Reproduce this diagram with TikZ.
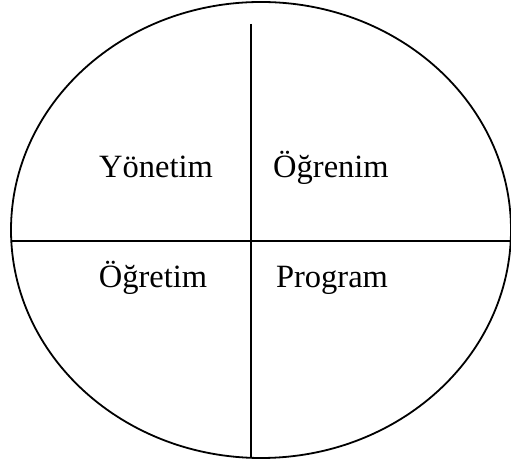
\documentclass[tikz,border=0pt]{standalone}
\usepackage{fontspec}
\setmainfont{Liberation Serif}
\usetikzlibrary{shapes.geometric}
\begin{document}
\begin{tikzpicture}[x=1pt,y=1pt,
  line width=1.8pt,
  label/.style={anchor=base,inner sep=0pt,font=\fontsize{32.5}{38}\selectfont}]
\useasboundingbox (0,0) rectangle (511,465);
\node[draw,ellipse,inner sep=0pt,minimum width=500pt,minimum height=456pt] (E) at (261,235) {};
\coordinate (hl) at (11.5,224);
\coordinate (hr) at (511,224);
\coordinate (vt) at (251,441);
\coordinate (vb) at (251,7);
\draw (hl) -- (hr);
\draw (vt) -- (vb);
\node[label] (yon) at (156,287) {Yönetim};
\node[label] (ogr) at (331,287) {Öğrenim};
\node[label] (oge) at (153,177) {Öğretim};
\node[label] (pro) at (332,177) {Program};
\end{tikzpicture}
\end{document}
